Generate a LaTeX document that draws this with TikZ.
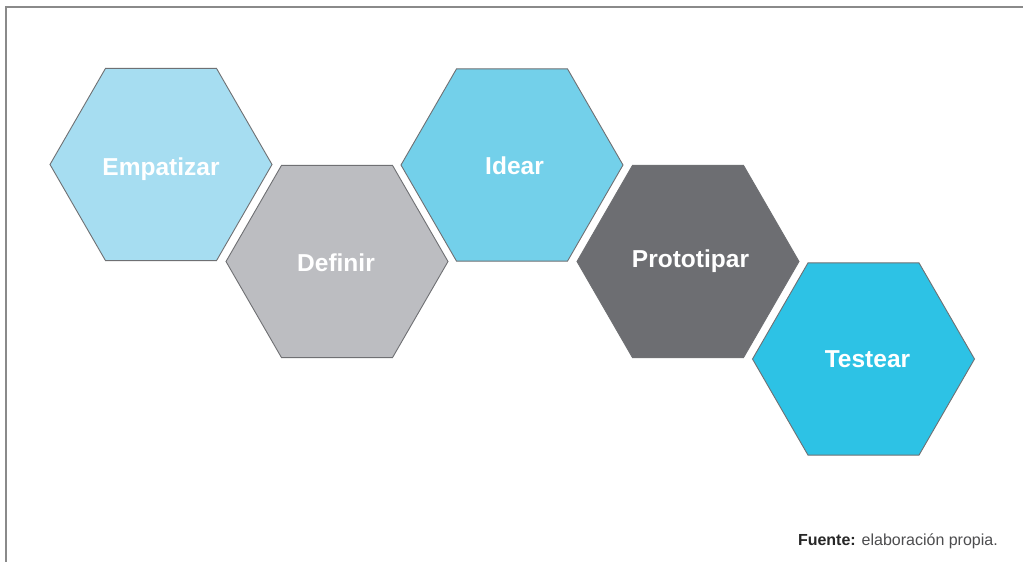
\documentclass[tikz,border=0pt]{standalone}
\usepackage{fontspec}
\setmainfont{Liberation Sans}
\usetikzlibrary{shapes.geometric}
\definecolor{cEmp}{HTML}{A6DDF1}
\definecolor{cDef}{HTML}{BCBDC1}
\definecolor{cIde}{HTML}{73D0EA}
\definecolor{cPro}{HTML}{6D6E72}
\definecolor{cTes}{HTML}{2DC2E5}
\definecolor{cEdge}{HTML}{6F7073}
\definecolor{cFrame}{HTML}{8A8A8A}
\definecolor{cFoot}{HTML}{4D4D4F}
\tikzset{
  hexa/.style={regular polygon, regular polygon sides=6, minimum size=222pt,
    inner sep=0pt, outer sep=0pt, draw=cEdge, line width=0.9pt},
  hexlabel/.style={anchor=base, text=white, inner sep=0pt,
    font=\fontsize{24.5}{28}\selectfont\bfseries},
}
\begin{document}
\begin{tikzpicture}[x=1pt,y=-1pt]
\useasboundingbox (0,0) rectangle (1023,562);
\fill[white] (0,0) rectangle (1023,562);
\coordinate (fa) at (6,562);
\coordinate (fb) at (6,7);
\coordinate (fc) at (1023,7);
\draw[cFrame, line width=1.5pt] (fa) -- (fb) -- (fc);

\node[hexa, fill=cEmp] (h1) at (161,164.5) {};
\node[hexa, fill=cDef] (h2) at (337,261.5) {};
\node[hexa, fill=cIde] (h3) at (512,165) {};
\node[hexa, fill=cPro] (h4) at (688,261.5) {};
\node[hexa, fill=cTes] (h5) at (863.5,359) {};

\node[hexlabel] (t1) at (161,175) {Empatizar};
\node[hexlabel] (t2) at (336,271.5) {Definir};
\node[hexlabel] (t3) at (514.5,174.5) {Idear};
\node[hexlabel] (t4) at (690.5,267) {Prototipar};
\node[hexlabel] (t5) at (867.5,367) {Testear};

\node[anchor=base east, inner sep=0pt, text=cFoot,
  font=\fontsize{16}{19}\selectfont] (src) at (998,545)
  {\textcolor{black!85}{\bfseries Fuente:} elaboración propia.};
\end{tikzpicture}
\end{document}
